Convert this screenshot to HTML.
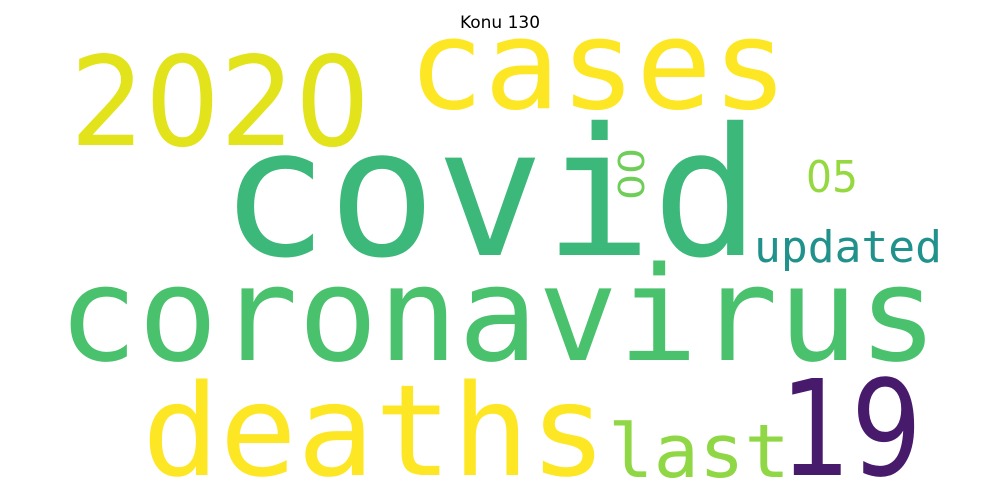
<!DOCTYPE html>
<html><head><meta charset="utf-8"><style>
html,body{margin:0;padding:0;background:#fff;width:1000px;height:500px;overflow:hidden}
text{font-family:"DejaVu Sans Mono","Liberation Mono",monospace}
text.num{font-family:"DejaVu Sans","Liberation Sans",sans-serif}
</style></head><body>
<svg width="1000" height="500">
<text x="500" y="28" text-anchor="middle" class="num" font-size="17" fill="#000">Konu 130</text>
<text x="70" y="145" class="num" font-size="124" fill="#e2e31a" textLength="300" lengthAdjust="spacingAndGlyphs">2020</text>
<text x="408" y="108" font-size="124" fill="#fde725" textLength="380" lengthAdjust="spacingAndGlyphs">cases</text>
<text x="220" y="255" font-size="178" fill="#3bb87a" textLength="540" lengthAdjust="spacingAndGlyphs">covid</text>
<text transform="translate(618,148) rotate(90)" class="num" font-size="36" fill="#6ece58" textLength="52" lengthAdjust="spacingAndGlyphs">00</text>
<text x="806" y="192" class="num" font-size="44" fill="#95d840" textLength="52" lengthAdjust="spacingAndGlyphs">05</text>
<text x="754" y="262" font-size="44" fill="#21918c" textLength="188" lengthAdjust="spacingAndGlyphs">updated</text>
<text x="58" y="360" font-size="131" fill="#4ac16d" textLength="880" lengthAdjust="spacingAndGlyphs">coronavirus</text>
<text x="142" y="475" font-size="127" fill="#fde725" textLength="465" lengthAdjust="spacingAndGlyphs">deaths</text>
<text x="608" y="477" font-size="74" fill="#8fd744" textLength="182" lengthAdjust="spacingAndGlyphs">last</text>
<text x="780" y="475" class="num" font-size="133" fill="#481a6c" textLength="142" lengthAdjust="spacingAndGlyphs">19</text>
</svg>
</body></html>
